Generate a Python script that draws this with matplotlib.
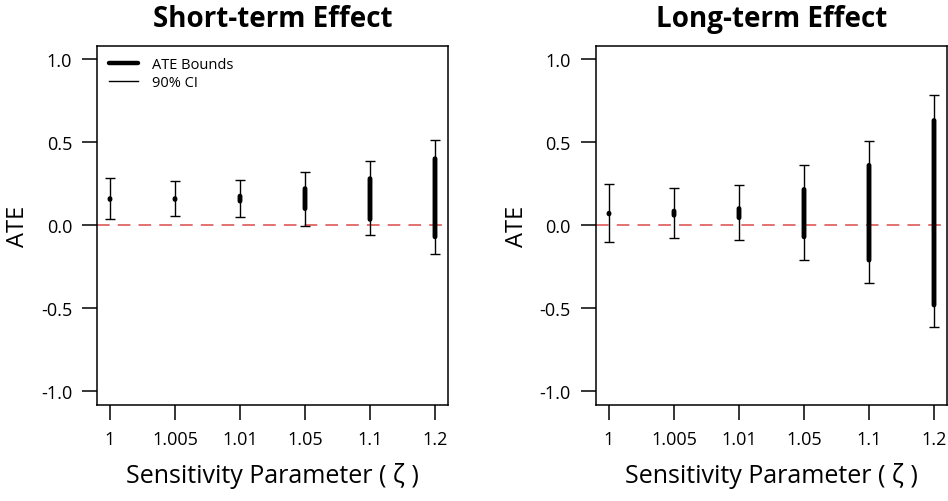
import numpy as np
import matplotlib
matplotlib.use("Agg")
import matplotlib.pyplot as plt
from matplotlib.lines import Line2D

plt.rcParams['font.family'] = ['Open Sans', 'DejaVu Sans']

# sensitivity parameter values (categorical x positions)
zeta_labels = ['1', '1.005', '1.01', '1.05', '1.1', '1.2']

# short-term effect
short_bound_lo = [0.155, 0.155, 0.145, 0.10, 0.035, -0.07]
short_bound_hi = [0.160, 0.160, 0.175, 0.22, 0.280, 0.40]
short_ci_lo = [0.036, 0.058, 0.050, -0.002, -0.060, -0.172]
short_ci_hi = [0.286, 0.266, 0.272, 0.322, 0.386, 0.510]

# long-term effect
long_bound_lo = [0.068, 0.060, 0.045, -0.07, -0.21, -0.48]
long_bound_hi = [0.072, 0.085, 0.100, 0.215, 0.36, 0.63]
long_ci_lo = [-0.102, -0.078, -0.092, -0.208, -0.350, -0.610]
long_ci_hi = [0.248, 0.224, 0.242, 0.360, 0.504, 0.784]

W, H = 948, 502
fig = plt.figure(figsize=(W / 100, H / 100), dpi=100)

panels = [
    ("Short-term Effect", 97, short_bound_lo, short_bound_hi, short_ci_lo, short_ci_hi, True),
    ("Long-term Effect", 596, long_bound_lo, long_bound_hi, long_ci_lo, long_ci_hi, False),
]

x = np.arange(1, len(zeta_labels) + 1)

for title, left, blo, bhi, clo, chi, show_legend in panels:
    ax = fig.add_axes([left / W, (H - 405.7) / H, 351 / W, (405.7 - 46.7) / H])
    ax.axhline(0, color='#E06666', lw=1.3, ls=(0, (7, 4.5)), zorder=1)
    clo = np.array(clo)
    chi = np.array(chi)
    mid = (clo + chi) / 2
    ax.errorbar(x, mid, yerr=[mid - clo, chi - mid], fmt='none', ecolor='black',
                elinewidth=1.0, capsize=3.6, capthick=1.0, zorder=2)
    bl = ax.vlines(x, blo, bhi, colors='black', lw=3.5, capstyle='round', zorder=3)
    bl.set_snap(False)

    ax.set_xlim(0.8, 6.2)
    ax.set_ylim(-1.08, 1.08)
    ax.set_xticks(x)
    ax.set_xticklabels(zeta_labels)
    ax.set_yticks([-1.0, -0.5, 0.0, 0.5, 1.0])
    ax.set_yticklabels(['-1.0', '-0.5', '0.0', '0.5', '1.0'])
    ax.tick_params(axis='both', direction='out', length=11, width=1.1,
                   labelsize=13, pad=7, color='black')
    for s in ax.spines.values():
        s.set_linewidth(1.1)
    ax.set_ylabel('ATE', fontsize=17, labelpad=8)
    ax.set_xlabel('Sensitivity Parameter ( ζ )', fontsize=18, labelpad=10)
    ax.set_title(title, fontsize=20, fontweight='bold', pad=14)

    if show_legend:
        handles = [Line2D([], [], color='black', lw=3.2, solid_capstyle='round'),
                   Line2D([], [], color='black', lw=1.0)]
        ax.legend(handles, ['ATE Bounds', '90% CI'], loc='upper left', frameon=False,
                  fontsize=10.5, handlelength=2.0, handletextpad=1.0,
                  labelspacing=0.2, borderaxespad=0.4)

fig.savefig('out.png', dpi=100)
